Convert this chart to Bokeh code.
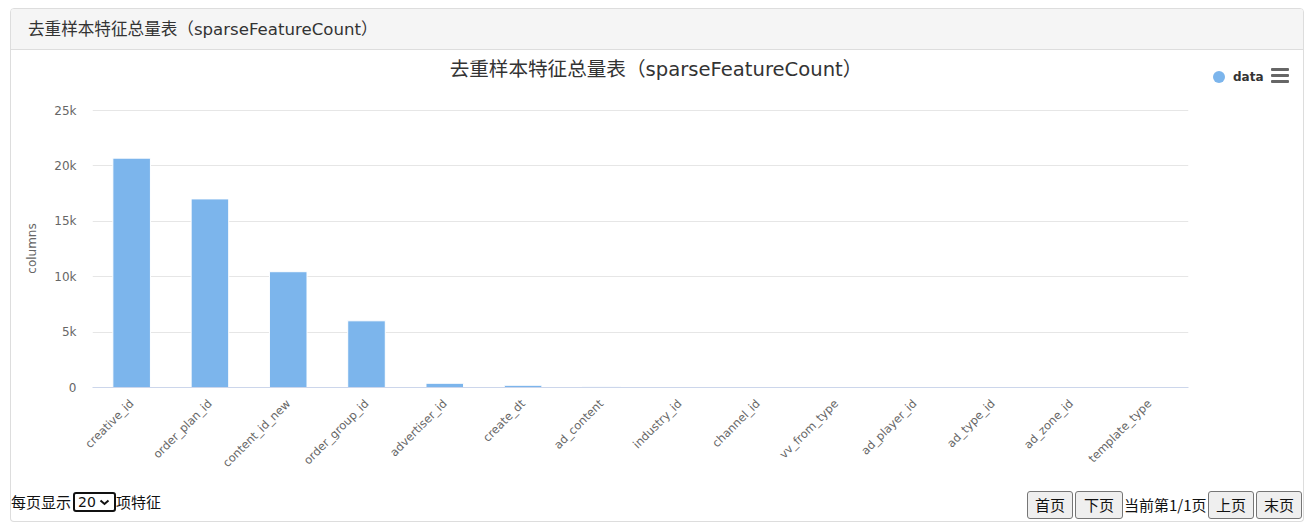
import math
from bokeh.plotting import figure
from bokeh.layouts import column, row
from bokeh.models import (FactorRange, Range1d, FixedTicker, ColumnDataSource, Div, Spacer)
from bokeh.embed import file_html
from bokeh.resources import INLINE

# ---------------- data ----------------
categories = ["creative_id", "order_plan_id", "content_id_new", "order_group_id",
              "advertiser_id", "create_dt", "ad_content", "industry_id", "channel_id",
              "vv_from_type", "ad_player_id", "ad_type_id", "ad_zone_id", "template_type"]
values = [20700, 17020, 10450, 6020, 380, 200, 100, 30, 20, 12, 8, 6, 5, 3]
y_ticks = [0, 5000, 10000, 15000, 20000, 25000]
y_tick_labels = ["0", "5k", "10k", "15k", "20k", "25k"]
series_name = "data"
series_color = "#7cb5ec"
chart_title = "去重样本特征总量表（sparseFeatureCount）"
panel_title = "去重样本特征总量表（sparseFeatureCount）"
y_axis_title = "columns"
page_size_options = ["20"]
footer_left_before = "每页显示"
footer_left_after = "项特征"
buttons_left = ["首页", "下页"]
page_info = "当前第1/1页"
buttons_right = ["上页", "末页"]

# ---------------- layout constants ----------------
W, H = 1312, 532
HEADER_H = 95
FOOTER_H = 50
FIG_W = 1292
FIG_H = H - HEADER_H - FOOTER_H
FIG_X0 = 11
FRAME_L, FRAME_R, FRAME_T, FRAME_B = 92, 1188, 109, 387  # canvas px

LAT = "DejaVu Sans"
MIXCSS = "'DejaVu Sans','Noto Sans CJK SC',sans-serif"
CJKCSS = "'Noto Sans CJK SC',sans-serif"

# ---------------- header: panel heading + chart title + legend + menu icon ----------------
menu_bars = "".join(
    f'<div style="position:absolute;left:1271px;top:{t}px;width:18px;height:3px;background:#666666;border-radius:1px;"></div>'
    for t in (68, 74, 80))
header_html = f"""
<div style="position:relative;width:{W}px;height:{HEADER_H}px;overflow:hidden;background:#ffffff;">
  <div style="position:absolute;left:10px;top:8px;width:1292px;height:120px;border:1px solid #dddddd;
              border-radius:4px 4px 0 0;box-sizing:content-box;"></div>
  <div style="position:absolute;left:11px;top:9px;width:1292px;height:41px;background:#f5f5f5;
              border-bottom:1px solid #dddddd;border-radius:3px 3px 0 0;"></div>
  <div style="position:absolute;left:28px;top:9px;height:41px;line-height:41px;white-space:nowrap;
              font-family:{MIXCSS};font-size:16.6px;color:#333333;">{panel_title}</div>
  <div style="position:absolute;left:0px;top:57px;width:1312px;height:26px;line-height:26px;text-align:center;
              white-space:nowrap;font-family:{MIXCSS};font-size:19.6px;color:#333333;">{chart_title}</div>
  <div style="position:absolute;left:1213px;top:71px;width:12px;height:12px;border-radius:50%;background:{series_color};"></div>
  <div style="position:absolute;left:1233px;top:69px;height:16px;line-height:16px;white-space:nowrap;
              font-family:'DejaVu Sans',sans-serif;font-size:12px;font-weight:bold;color:#333333;">{series_name}</div>
  {menu_bars}
</div>"""
header = Div(text=header_html, width=W, height=HEADER_H, margin=0)

# ---------------- footer (pagination) ----------------
btn_css = ("position:absolute;top:9px;height:28px;box-sizing:border-box;padding:0;margin:0;"
           "background:#efefef;border:1px solid #767676;border-radius:3px;color:#111111;"
           f"font-family:{CJKCSS};font-size:15px;line-height:26px;text-align:center;")
btn_left_x = [(1027, 46), (1075, 48)]
btn_right_x = [(1208, 46), (1256, 46)]
buttons_html = ""
for (x, w), lbl in zip(btn_left_x, buttons_left):
    buttons_html += f'<button style="{btn_css}left:{x}px;width:{w}px;">{lbl}</button>'
buttons_html += (f'<div style="position:absolute;left:1124px;top:9px;height:28px;line-height:28px;'
                 f'font-family:{CJKCSS};font-size:15px;color:#111111;white-space:nowrap;">{page_info}</div>')
for (x, w), lbl in zip(btn_right_x, buttons_right):
    buttons_html += f'<button style="{btn_css}left:{x}px;width:{w}px;">{lbl}</button>'
options_html = "".join(f"<option>{o}</option>" for o in page_size_options)

txt_css = (f"position:absolute;top:10px;height:20px;line-height:20px;white-space:nowrap;"
           f"font-family:{CJKCSS};font-size:15px;color:#111111;")
footer_html = f"""
<div style="position:relative;width:{W}px;height:{FOOTER_H}px;overflow:hidden;background:#ffffff;">
  <div style="position:absolute;left:10px;top:-5px;width:1292px;height:44px;border:1px solid #dddddd;
              border-top:none;border-radius:0 0 4px 4px;box-sizing:content-box;"></div>
  <div style="{txt_css}left:11px;">{footer_left_before}</div>
  <select style="position:absolute;left:73px;top:10px;width:43px;height:20px;box-sizing:border-box;
                 border:2px solid #111111;border-radius:3px;background:#ffffff;color:#111111;
                 -webkit-appearance:none;appearance:none;font-family:'DejaVu Sans',sans-serif;
                 font-size:14px;padding:0 0 0 3px;margin:0;">{options_html}</select>
  <svg style="position:absolute;left:99px;top:17px;" width="11" height="7">
    <polyline points="1.5,1.5 5.5,5 9.5,1.5" fill="none" stroke="#111111" stroke-width="2"/>
  </svg>
  <div style="{txt_css}left:116px;">{footer_left_after}</div>
  {buttons_html}
</div>"""
footer = Div(text=footer_html, width=W, height=FOOTER_H, margin=0)

# ---------------- chart ----------------
src = ColumnDataSource(dict(cat=categories, val=values))

min_top = FRAME_T - HEADER_H
min_bottom = (HEADER_H + FIG_H) - FRAME_B
min_left = FRAME_L - FIG_X0
min_right = (FIG_X0 + FIG_W) - FRAME_R
frame_h = FRAME_B - FRAME_T
y_top = 25000 * frame_h / (frame_h - 1)

p = figure(width=FIG_W, height=FIG_H, output_backend="svg", toolbar_location=None,
           x_range=FactorRange(factors=categories, range_padding=0),
           y_range=Range1d(0, y_top),
           min_border_left=min_left, min_border_right=min_right,
           min_border_top=min_top, min_border_bottom=min_bottom,
           background_fill_color="white", border_fill_color="white", margin=0)
p.outline_line_color = None

p.vbar(x="cat", top="val", width=0.48, source=src,
       fill_color=series_color, line_color="white", line_width=1)

# axes
p.yaxis.ticker = FixedTicker(ticks=y_ticks)
p.yaxis.major_label_overrides = {t: l for t, l in zip(y_ticks, y_tick_labels)}
p.yaxis.axis_line_color = None
p.yaxis.major_tick_line_color = None
p.yaxis.minor_tick_line_color = None
p.yaxis.major_tick_out = 0
p.yaxis.major_tick_in = 0
p.yaxis.major_label_standoff = 16
p.yaxis.major_label_text_font = LAT
p.yaxis.major_label_text_font_size = "12px"
p.yaxis.major_label_text_color = "#666666"
p.yaxis.axis_label = y_axis_title
p.yaxis.axis_label_text_font = LAT
p.yaxis.axis_label_text_font_size = "12px"
p.yaxis.axis_label_text_font_style = "normal"
p.yaxis.axis_label_text_color = "#666666"
p.yaxis.axis_label_standoff = 12

p.xaxis.axis_line_color = "#ccd6eb"
p.xaxis.major_tick_line_color = None
p.xaxis.minor_tick_line_color = None
p.xaxis.major_tick_out = 0
p.xaxis.major_tick_in = 0
p.xaxis.major_label_orientation = math.pi / 4
p.xaxis.major_label_standoff = 14
p.xaxis.major_label_text_font = LAT
p.xaxis.major_label_text_font_size = "11.5px"
p.xaxis.major_label_text_color = "#666666"

p.xgrid.grid_line_color = None
p.ygrid.grid_line_color = "#e6e6e6"

# side borders of the panel around the chart
left_pad = Spacer(width=10, height=FIG_H, margin=0)
left_border = Spacer(width=1, height=FIG_H, margin=0, styles={"background-color": "#dddddd"})
right_border = Spacer(width=1, height=FIG_H, margin=0, styles={"background-color": "#dddddd"})
right_pad = Spacer(width=W - 10 - 1 - FIG_W - 1, height=FIG_H, margin=0)

middle = row(left_pad, left_border, p, right_border, right_pad, spacing=0, margin=0)
page = column(header, middle, footer, spacing=0, margin=0)

open("out.html", "w").write(file_html(page, INLINE))
